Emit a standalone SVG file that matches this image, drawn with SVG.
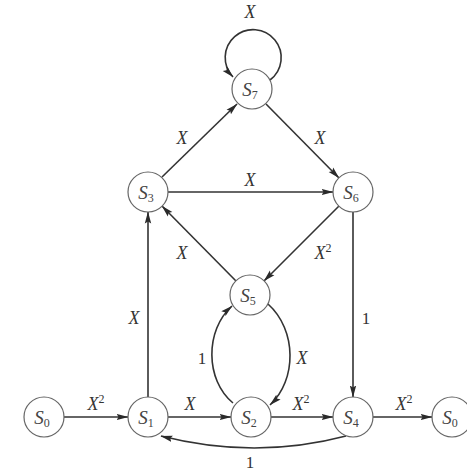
<svg xmlns="http://www.w3.org/2000/svg" width="467" height="472" viewBox="0 0 467 472">
<defs>
<marker id="ah" viewBox="0 0 12 8" refX="11.5" refY="4" markerWidth="12" markerHeight="8" markerUnits="userSpaceOnUse" orient="auto">
<path d="M0,0.8 L12,4 L0,7.2 L2,4 Z" fill="#2a2a2a"/>
</marker>
<style>
.n{fill:#fff;stroke:#666;stroke-width:1.2}
.e{fill:none;stroke:#333;stroke-width:1.6}
.a{marker-end:url(#ah)}
.s{font-family:"Liberation Serif",serif;font-style:italic;font-size:19px;fill:#444;text-anchor:middle}
.sub{font-style:normal;font-size:12px}
.l{font-family:"Liberation Serif",serif;font-style:italic;font-size:18px;fill:#333;text-anchor:middle}
.sup{font-style:normal;font-size:12px}
.d{font-family:"Liberation Serif",serif;font-size:17px;fill:#333;text-anchor:middle}
</style>
</defs>
<rect width="467" height="472" fill="#fff"/>
<g id="connectors">
<path class="e a" d="M64,417 L128,417"/>
<path class="e a" d="M168,417 L231,417"/>
<path class="e a" d="M271,417 L333,417"/>
<path class="e a" d="M373,417 L432,417"/>
<path class="e a" d="M346,436 Q255,460 161,436"/>
<path class="e a" d="M148,397 L148,212"/>
<path class="e a" d="M162,177 L237,104"/>
<path class="e a" d="M266,104 L339,178"/>
<path class="e a" d="M168,192 L333,192"/>
<path class="e a" d="M339,206 L264,281"/>
<path class="e a" d="M236,281 L162,206"/>
<path class="e a" d="M353,212 L353,397"/>
<path class="e a" d="M233,403 C205,380 205,330 232,306"/>
<path class="e a" d="M268,304 C297,330 297,380 270,405"/>
<path class="e a" d="M270,80 A28 28 0 1 0 233,77"/>
</g>
<g id="edge-labels">
<text class="l" x="96" y="410">X<tspan class="sup" dy="-7">2</tspan></text>
<text class="l" x="190" y="410">X</text>
<text class="l" x="301" y="410">X<tspan class="sup" dy="-7">2</tspan></text>
<text class="l" x="404" y="410">X<tspan class="sup" dy="-7">2</tspan></text>
<text class="d" x="250" y="468">1</text>
<text class="l" x="134" y="324">X</text>
<text class="l" x="182" y="144">X</text>
<text class="l" x="320" y="144">X</text>
<text class="l" x="250" y="186">X</text>
<text class="l" x="323" y="259">X<tspan class="sup" dy="-7">2</tspan></text>
<text class="l" x="182" y="259">X</text>
<text class="d" x="366" y="324">1</text>
<text class="d" x="202" y="364">1</text>
<text class="l" x="302" y="364">X</text>
<text class="l" x="250" y="18">X</text>
</g>
<g id="S7"><circle class="n" cx="252" cy="89" r="20"/><text class="s" x="250" y="96">S<tspan class="sub" dy="3">7</tspan></text></g>
<g id="S3"><circle class="n" cx="148" cy="192" r="20"/><text class="s" x="146" y="199">S<tspan class="sub" dy="3">3</tspan></text></g>
<g id="S6"><circle class="n" cx="353" cy="192" r="20"/><text class="s" x="351" y="199">S<tspan class="sub" dy="3">6</tspan></text></g>
<g id="S5"><circle class="n" cx="250" cy="295" r="20"/><text class="s" x="248" y="302">S<tspan class="sub" dy="3">5</tspan></text></g>
<g id="S0a"><circle class="n" cx="44" cy="417" r="20"/><text class="s" x="42" y="424">S<tspan class="sub" dy="3">0</tspan></text></g>
<g id="S1"><circle class="n" cx="148" cy="417" r="20"/><text class="s" x="146" y="424">S<tspan class="sub" dy="3">1</tspan></text></g>
<g id="S2"><circle class="n" cx="251" cy="417" r="20"/><text class="s" x="249" y="424">S<tspan class="sub" dy="3">2</tspan></text></g>
<g id="S4"><circle class="n" cx="353" cy="417" r="20"/><text class="s" x="351" y="424">S<tspan class="sub" dy="3">4</tspan></text></g>
<g id="S0b"><circle class="n" cx="452" cy="417" r="20"/><text class="s" x="450" y="424">S<tspan class="sub" dy="3">0</tspan></text></g>
</svg>
